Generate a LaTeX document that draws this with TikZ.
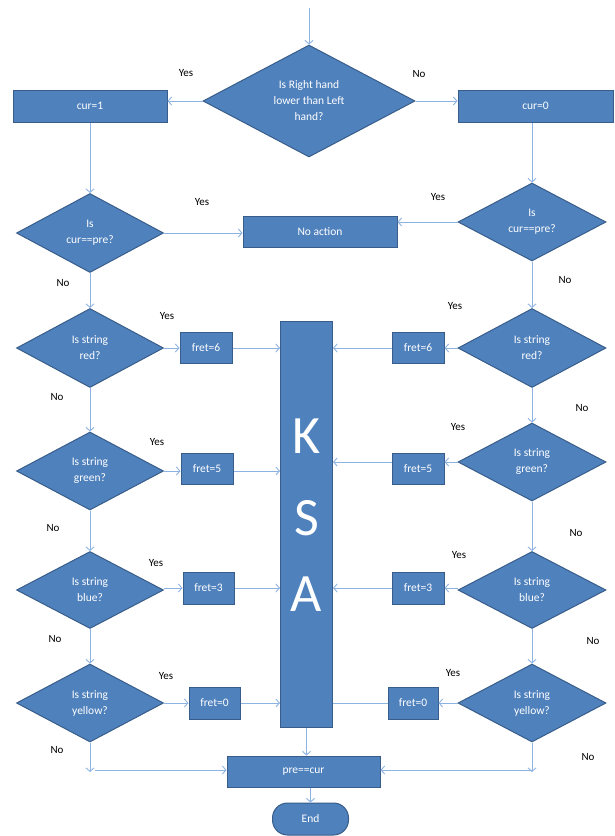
\documentclass[tikz,border=0pt]{standalone}
\usepackage{fontspec}
\setmainfont{Carlito}
\usetikzlibrary{shapes.geometric,arrows.meta}
\definecolor{fillb}{HTML}{4F81BD}
\definecolor{edgeb}{HTML}{385D8A}
\definecolor{linec}{HTML}{8DB3E2}
\begin{document}
\begin{tikzpicture}[x=1pt,y=-1pt,
  base/.style={draw=edgeb, line width=1pt, fill=fillb, text=white, font=\fontsize{11.5}{16}\selectfont, inner sep=0pt, align=center},
  boxn/.style={base, rectangle},
  dia/.style={base, diamond},
  conn/.style={draw=linec, line width=0.9pt, -{Straight Barb[length=3.5pt,width=8pt]}},
  plainc/.style={draw=linec, line width=0.9pt},
  lbl/.style={font=\fontsize{11}{13}\selectfont, text=black, inner sep=0pt},
  big/.style={text=white, font=\fontsize{54}{54}\selectfont, inner sep=0pt}]
\useasboundingbox (0,0) rectangle (615,836);

% nodes
\coordinate (st) at (309,8);
\node[dia, minimum width=212pt, minimum height=112pt] (q0) at (309,101) {Is Right hand\\lower than Left\\hand?};
\node[boxn, minimum width=154pt, minimum height=32pt] (c1) at (90,106) {cur=1};
\node[boxn, minimum width=155pt, minimum height=32pt] (c0) at (535.5,106) {cur=0};

\node[dia, minimum width=147pt, minimum height=79pt] (dcl) at (90,233) {Is\\cur==pre?};
\node[boxn, minimum width=154pt, minimum height=31pt] (na) at (320,231.5) {No action};
\node[dia, minimum width=148pt, minimum height=78pt] (dcr) at (532,222) {Is\\cur==pre?};

\node[dia, minimum width=147pt, minimum height=79pt] (dl1) at (90,348) {Is string\\red?};
\node[boxn, minimum width=52pt, minimum height=31pt] (fl1) at (206,347.5) {fret=6};
\node[dia, minimum width=148pt, minimum height=79pt] (dr1) at (532,348) {Is string\\red?};
\node[boxn, minimum width=52pt, minimum height=31pt] (fr1) at (418,347.5) {fret=6};

\node[dia, minimum width=147pt, minimum height=78pt] (dl2) at (90,471) {Is string\\green?};
\node[boxn, minimum width=52pt, minimum height=31pt] (fl2) at (207,468.5) {fret=5};
\node[dia, minimum width=148pt, minimum height=78pt] (dr2) at (532,462) {Is string\\green?};
\node[boxn, minimum width=52pt, minimum height=31pt] (fr2) at (418,468.5) {fret=5};

\node[dia, minimum width=147pt, minimum height=77pt] (dl3) at (90,590) {Is string\\blue?};
\node[boxn, minimum width=51pt, minimum height=32pt] (fl3) at (208.5,588) {fret=3};
\node[dia, minimum width=148pt, minimum height=77pt] (dr3) at (532,590) {Is string\\blue?};
\node[boxn, minimum width=52pt, minimum height=32pt] (fr3) at (418,588) {fret=3};

\node[dia, minimum width=147pt, minimum height=78pt] (dl4) at (90,703) {Is string\\yellow?};
\node[boxn, minimum width=51pt, minimum height=32pt] (fl4) at (214.5,703) {fret=0};
\node[dia, minimum width=148pt, minimum height=78pt] (dr4) at (532,703) {Is string\\yellow?};
\node[boxn, minimum width=50pt, minimum height=32pt] (fr4) at (413,703) {fret=0};

\node[boxn, minimum width=52pt, minimum height=406pt] (ksa) at (306.5,524) {};
\node[big] (kk) at (306.5,436) {K};
\node[big] (ks) at (306.5,518) {S};
\node[big] (ka) at (306.5,594) {A};

\node[boxn, minimum width=153pt, minimum height=31pt] (pc) at (303.5,771.5) {pre==cur};
\node[boxn, rounded corners=15pt, minimum width=76pt, minimum height=32pt] (en) at (310.5,819) {End};

\coordinate (lb) at (90,772);
\coordinate (lh) at (95,770);
\coordinate (rb) at (532,772);
\coordinate (rh) at (532,770);

% connectors
\draw[conn] (st) -- (q0.north);
\draw[conn] (q0.west) -- (q0.west -| c1.east);
\draw[conn] (q0.east) -- (q0.east -| c0.west);
\draw[conn] (c1.south) -- (dcl.north);
\draw[conn] (c0.south -| dcr.north) -- (dcr.north);
\draw[conn] (dcl.east) -- (dcl.east -| na.west);
\draw[conn] (dcr.west) -- (dcr.west -| na.east);

\draw[conn] (dcl.south) -- (dl1.north);
\draw[conn] (dl1.south) -- (dl2.north);
\draw[conn] (dl2.south) -- (dl3.north);
\draw[conn] (dl3.south) -- (dl4.north);
\draw[conn] (dl4.south) -- (lb);
\draw[conn] (lh) -- (lh -| pc.west);

\draw[conn] (dcr.south) -- (dr1.north);
\draw[conn] (dr1.south) -- (dr2.north);
\draw[conn] (dr2.south) -- (dr3.north);
\draw[conn] (dr3.south) -- (dr4.north);
\draw[conn] (dr4.south) -- (rb);
\draw[conn] (rh) -- (rh -| pc.east);

\draw[conn] (dl1.east) -- (dl1.east -| fl1.west);
\draw[conn] (fl1.east |- dl1.east) -- (dl1.east -| ksa.west);
\draw[conn] (dr1.west) -- (dr1.west -| fr1.east);
\draw[conn] (fr1.west |- dr1.west) -- (dr1.west -| ksa.east);

\draw[conn] (dl2.east) -- (dl2.east -| fl2.west);
\draw[conn] (fl2.east |- dl2.east) -- (dl2.east -| ksa.west);
\draw[conn] (dr2.west) -- (dr2.west -| fr2.east);
\draw[conn] (fr2.west |- dr2.west) -- (dr2.west -| ksa.east);

\draw[conn] (dl3.east |- fl3.west) -- (fl3.west);
\draw[conn] (fl3.east) -- (fl3.east -| ksa.west);
\draw[conn] (dr3.west |- fr3.east) -- (fr3.east);
\draw[conn] (fr3.west) -- (fr3.west -| ksa.east);

\draw[conn] (dl4.east) -- (dl4.east -| fl4.west);
\draw[conn] (fl4.east) -- (fl4.east -| ksa.west);
\draw[conn] (dr4.west) -- (dr4.west -| fr4.east);
\draw[plainc] (fr4.west) -- (fr4.west -| ksa.east);

\draw[conn] (ksa.south) -- (ksa.south |- pc.north);
\draw[conn] (en.north |- pc.south) -- (en.north);

% labels
\node[lbl] (y0) at (186,73) {Yes};
\node[lbl] (n0) at (419,74) {No};
\node[lbl] (y1) at (202,202) {Yes};
\node[lbl] (y2) at (438,197) {Yes};
\node[lbl] (n1) at (63,283) {No};
\node[lbl] (n2) at (565,280) {No};
\node[lbl] (y3) at (167,316) {Yes};
\node[lbl] (y4) at (455,306) {Yes};
\node[lbl] (n3) at (57,397) {No};
\node[lbl] (n4) at (582,408) {No};
\node[lbl] (y5) at (157,442) {Yes};
\node[lbl] (y6) at (458,427) {Yes};
\node[lbl] (n5) at (53,528) {No};
\node[lbl] (n6) at (576,533) {No};
\node[lbl] (y7) at (156,563) {Yes};
\node[lbl] (y8) at (459,555) {Yes};
\node[lbl] (n7) at (55,639) {No};
\node[lbl] (n8) at (593,641) {No};
\node[lbl] (y9) at (166,676) {Yes};
\node[lbl] (y10) at (453,673) {Yes};
\node[lbl] (n9) at (57,750) {No};
\node[lbl] (n10) at (588,757) {No};
\end{tikzpicture}
\end{document}
